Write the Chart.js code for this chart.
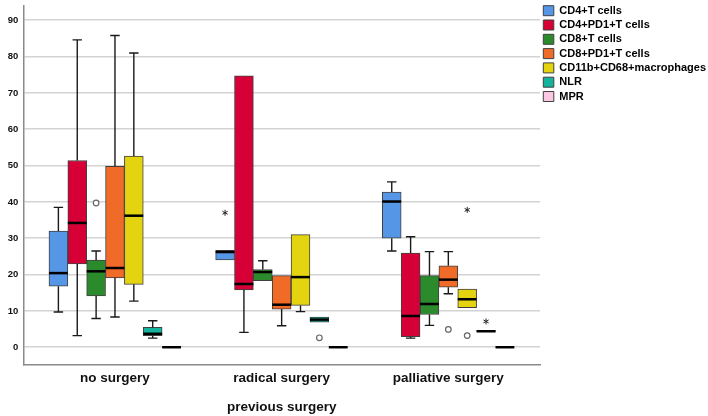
<!DOCTYPE html>
<html>
<head>
<meta charset="utf-8">
<script src="https://cdn.jsdelivr.net/npm/chart.js@4.4.1/dist/chart.umd.min.js"></script>
<style>
body { margin: 0; background: #fff; }
#wrap { width: 708px; height: 416px; }
</style>
</head>
<body>
<div id="wrap"><canvas id="myCanvas" width="708" height="416"></canvas></div>
<script>
var categories = ['no surgery', 'radical surgery', 'palliative surgery'];
var yTicks = [0, 10, 20, 30, 40, 50, 60, 70, 80, 90];

// box stats per group: [min, q1, median, q3, max]
var cd4 = [[9.7, 16.8, 20.4, 32.0, 38.5], [24.0, 24.0, 26.2, 26.7, 26.7], [26.5, 30.0, 40.1, 42.7, 45.5]];
var cd4pd1 = [[3.2, 22.9, 34.2, 51.4, 84.6], [4.1, 15.8, 17.4, 74.7, 74.7], [2.5, 2.9, 8.6, 25.9, 30.4]];
var cd8 = [[7.9, 14.1, 20.9, 24.0, 26.5], [18.3, 18.3, 20.7, 21.4, 23.8], [6.0, 9.0, 11.9, 19.7, 26.3]];
var cd8pd1 = [[8.3, 19.1, 21.8, 49.8, 85.8], [5.9, 10.5, 11.7, 19.7, 19.7], [14.7, 16.5, 18.6, 22.4, 26.3]];
var cd11b = [[12.7, 17.3, 36.2, 52.6, 81.0], [9.8, 11.5, 19.3, 31.0, 31.0], [10.9, 10.9, 13.2, 16.0, 16.0]];
var nlr = [[2.5, 3.2, 3.7, 5.5, 7.3], [6.9, 6.9, 7.6, 8.3, 8.3], [4.2, 4.2, 4.4, 4.6, 4.6]];
var mpr = [[0, 0, 0, 0, 0], [0, 0, 0, 0, 0], [0, 0, 0, 0, 0]];

// outliers (o) and extremes (*) per group
var cd4Outliers = [[], [], []];       var cd4Extremes = [[], [37.0], []];
var cd4pd1Outliers = [[], [], []];    var cd4pd1Extremes = [[], [], []];
var cd8Outliers = [[39.7], [], []];   var cd8Extremes = [[], [], []];
var cd8pd1Outliers = [[], [], [4.9]]; var cd8pd1Extremes = [[], [], []];
var cd11bOutliers = [[], [], [3.2]];  var cd11bExtremes = [[], [], [37.8]];
var nlrOutliers = [[], [2.6], []];    var nlrExtremes = [[], [], [7.1]];
var mprOutliers = [[], [], []];       var mprExtremes = [[], [], []];

var seriesNames = ['CD4+T cells', 'CD4+PD1+T cells', 'CD8+T cells', 'CD8+PD1+T cells', 'CD11b+CD68+macrophages', 'NLR', 'MPR'];
var seriesStats = [cd4, cd4pd1, cd8, cd8pd1, cd11b, nlr, mpr];
var seriesOutliers = [cd4Outliers, cd4pd1Outliers, cd8Outliers, cd8pd1Outliers, cd11bOutliers, nlrOutliers, mprOutliers];
var seriesExtremes = [cd4Extremes, cd4pd1Extremes, cd8Extremes, cd8pd1Extremes, cd11bExtremes, nlrExtremes, mprExtremes];
var seriesColors = ['#5596e6', '#d60036', '#2b8a2b', '#f06a28', '#e4d40f', '#14b39b', '#fbc8e3'];

var font = 'Liberation Sans, Arial, sans-serif';

// whiskers, medians and outlier marks on top of the bars
var boxPlugin = {
	id: 'boxWhiskers',
	afterDatasetsDraw: function(chart) {
		var ctx = chart.ctx;
		var y = chart.scales.y;
		ctx.save();
		chart.data.datasets.forEach(function(ds, d) {
			var meta = chart.getDatasetMeta(d);
			meta.data.forEach(function(bar, g) {
				var s = ds.stats[g];
				var x = bar.x, w = bar.width;
				ctx.strokeStyle = '#1a1a1a';
				ctx.lineWidth = 1.4;
				ctx.beginPath();
				if (s[4] > s[3]) {
					ctx.moveTo(x, y.getPixelForValue(s[3])); ctx.lineTo(x, y.getPixelForValue(s[4]));
					ctx.moveTo(x - w / 4, y.getPixelForValue(s[4])); ctx.lineTo(x + w / 4, y.getPixelForValue(s[4]));
				}
				if (s[0] < s[1]) {
					ctx.moveTo(x, y.getPixelForValue(s[1])); ctx.lineTo(x, y.getPixelForValue(s[0]));
					ctx.moveTo(x - w / 4, y.getPixelForValue(s[0])); ctx.lineTo(x + w / 4, y.getPixelForValue(s[0]));
				}
				ctx.stroke();
				// median
				ctx.lineWidth = 2.5;
				ctx.strokeStyle = '#000';
				ctx.beginPath();
				ctx.moveTo(x - w / 2, y.getPixelForValue(s[2])); ctx.lineTo(x + w / 2, y.getPixelForValue(s[2]));
				ctx.stroke();
				// outliers
				ctx.lineWidth = 1.2;
				ctx.strokeStyle = '#666';
				ctx.fillStyle = '#fff';
				ds.outliers[g].forEach(function(v) {
					ctx.beginPath();
					ctx.arc(x, y.getPixelForValue(v), 2.8, 0, Math.PI * 2);
					ctx.fill(); ctx.stroke();
				});
				// extremes
				ctx.lineWidth = 1;
				ctx.strokeStyle = '#222';
				ds.extremes[g].forEach(function(v) {
					var py = y.getPixelForValue(v);
					ctx.beginPath();
					for (var k = 0; k < 3; k++) {
						var a = Math.PI / 2 + k * Math.PI / 3;
						ctx.moveTo(x - 3 * Math.cos(a), py - 3 * Math.sin(a));
						ctx.lineTo(x + 3 * Math.cos(a), py + 3 * Math.sin(a));
					}
					ctx.stroke();
				});
			});
		});
		ctx.restore();
	}
};

var datasets = seriesNames.map(function(name, i) {
	return {
		label: name,
		data: seriesStats[i].map(function(s, g) { return {x: g, y: [s[1], s[3]]}; }),
		stats: seriesStats[i],
		outliers: seriesOutliers[i],
		extremes: seriesExtremes[i],
		backgroundColor: seriesColors[i],
		borderColor: '#404040',
		borderWidth: 1,
		borderSkipped: false,
		barThickness: 18.86
	};
});

var ctx = document.getElementById('myCanvas').getContext('2d');
var myChart = new Chart(ctx, {
	type: 'bar',
	data: { datasets: datasets },
	options: {
		responsive: false,
		animation: false,
		layout: { padding: { top: 1.9, left: 0, right: 0, bottom: 0 } },
		scales: {
			x: {
				type: 'linear',
				offset: false,
				min: -0.55,
				max: 2.55,
				afterBuildTicks: function(axis) {
					axis.ticks = categories.map(function(c, i) { return {value: i}; });
				},
				afterFit: function(axis) {
					axis.height = 51.7;
					axis.paddingLeft = 0; axis.paddingRight = 0;
				},
				grid: { display: false, drawTicks: false, offset: false },
				border: { display: true, color: '#8a8a8a', width: 1.5 },
				ticks: {
					padding: 6,
					color: '#111',
					font: { family: font, size: 13.5, weight: 'bold' },
					callback: function(value) { return categories[value]; }
				},
				title: {
					display: true,
					text: 'previous surgery',
					color: '#111',
					padding: { top: 0, bottom: 1 },
					font: { family: font, size: 13.5, weight: 'bold' }
				}
			},
			y: {
				min: -4.7,
				max: 94,
				afterBuildTicks: function(axis) {
					axis.ticks = yTicks.map(function(v) { return {value: v}; });
				},
				afterFit: function(axis) {
					axis.width = 23.3;
					axis.paddingTop = 5.7; axis.paddingBottom = 0;
				},
				grid: { color: '#d3d3d3', lineWidth: 1.5, drawTicks: false },
				border: { display: true, color: '#8a8a8a', width: 1.5 },
				ticks: {
					padding: 5,
					color: '#111',
					font: { family: font, size: 9.5, weight: 'bold' }
				}
			}
		},
		plugins: {
			legend: {
				position: 'right',
				align: 'start',
				maxWidth: 168,
				labels: {
					boxWidth: 10.5,
					boxHeight: 10,
					padding: 3.3,
					color: '#000',
					font: { family: font, size: 11, weight: 'bold' }
				}
			},
			tooltip: { enabled: false }
		}
	},
	plugins: [boxPlugin]
});
</script>
</body>
</html>
